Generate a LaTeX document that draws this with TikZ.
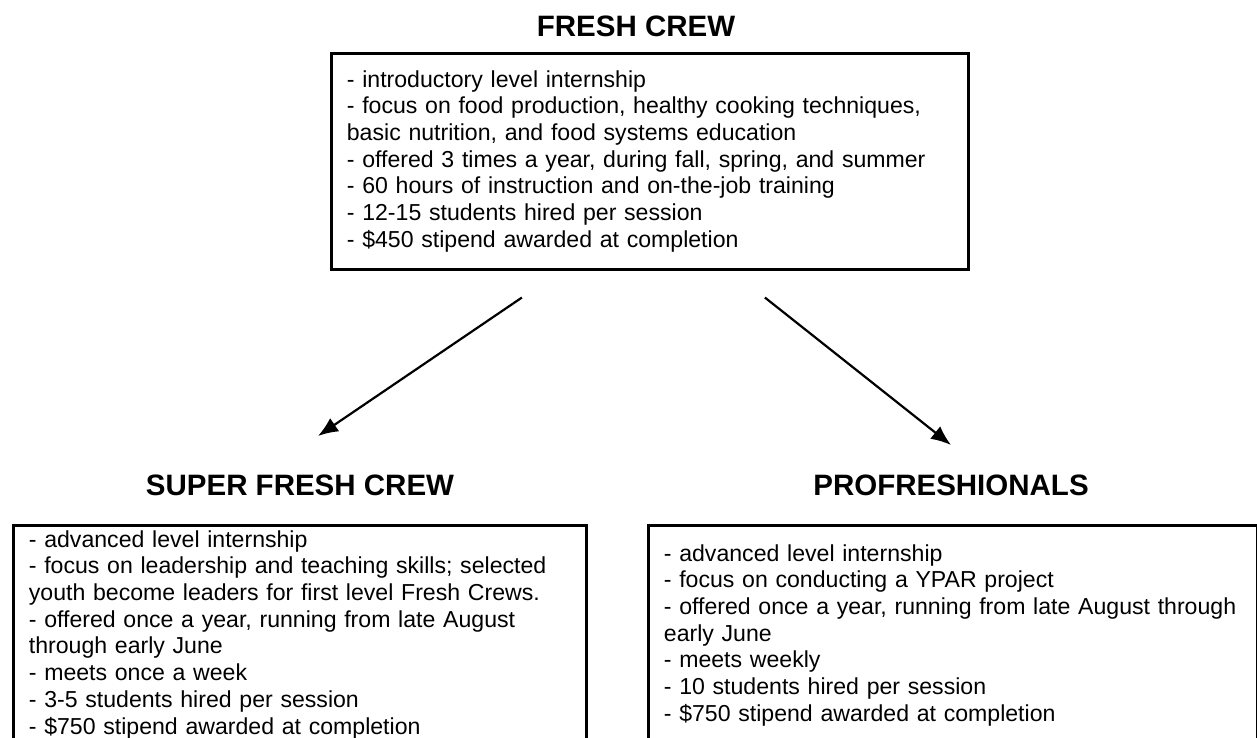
\documentclass[tikz,border=0pt]{standalone}
\usepackage{fontspec}
\setmainfont{Liberation Sans}
\usetikzlibrary{positioning}
\usetikzlibrary{arrows.meta}

\tikzset{
  crewtitle/.style={font=\fontsize{14.75pt}{17pt}\selectfont\bfseries, anchor=base, inner sep=0pt},
  crewbox/.style={draw, line width=1.4pt, anchor=north west, align=left, inner xsep=7.75pt,
    font=\fontsize{11.55pt}{13.35pt}\selectfont},
  crewarrow/.style={line width=1.1pt, -{Latex[length=10pt,width=8pt]}}
}

\begin{document}
\begin{tikzpicture}[x=0.5pt,y=0.5pt]
\useasboundingbox (0,0) rectangle (1257,-738);
% titles
\node[crewtitle] (fctitle) at (636,-37) {FRESH CREW};
\node[crewtitle] (sfctitle) at (300,-495) {SUPER FRESH CREW};
\node[crewtitle] (protitle) at (951,-495) {PROFRESHIONALS};

% boxes
\node[crewbox, inner ysep=8.5pt, text width=303pt] (fcbox) at (330,-52) {%
- introductory level internship\\
- focus on food production, healthy cooking techniques,\\
basic nutrition, and food systems education\\
- offered 3 times a year, during fall, spring, and summer\\
- 60 hours of instruction and on-the-job training\\
- 12-15 students hired per session\\
- \$450 stipend awarded at completion};

\node[crewbox, inner ysep=2.5pt, text width=271pt] (sfcbox) at (12,-524) {%
- advanced level internship\\
- focus on leadership and teaching skills; selected\\
youth become leaders for first level Fresh Crews.\\
- offered once a year, running from late August\\
through early June\\
- meets once a week\\
- 3-5 students hired per session\\
- \$750 stipend awarded at completion};

\node[crewbox, inner ysep=9.5pt, text width=289pt] (probox) at (647,-524) {%
- advanced level internship\\
- focus on conducting a YPAR project\\
- offered once a year, running from late August through\\
early June\\
- meets weekly\\
- 10 students hired per session\\
- \$750 stipend awarded at completion};

% arrows
\coordinate[below left=13.5pt and 64pt of fcbox.south] (lstart);
\coordinate[below right=13.5pt and 57.5pt of fcbox.south] (rstart);
\coordinate[above right=19pt and 9pt of sfctitle.north] (ltip);
\coordinate[above=14.5pt of protitle.north] (rtip);

\draw[crewarrow] (lstart) -- (ltip);
\draw[crewarrow] (rstart) -- (rtip);

\end{tikzpicture}
\end{document}
